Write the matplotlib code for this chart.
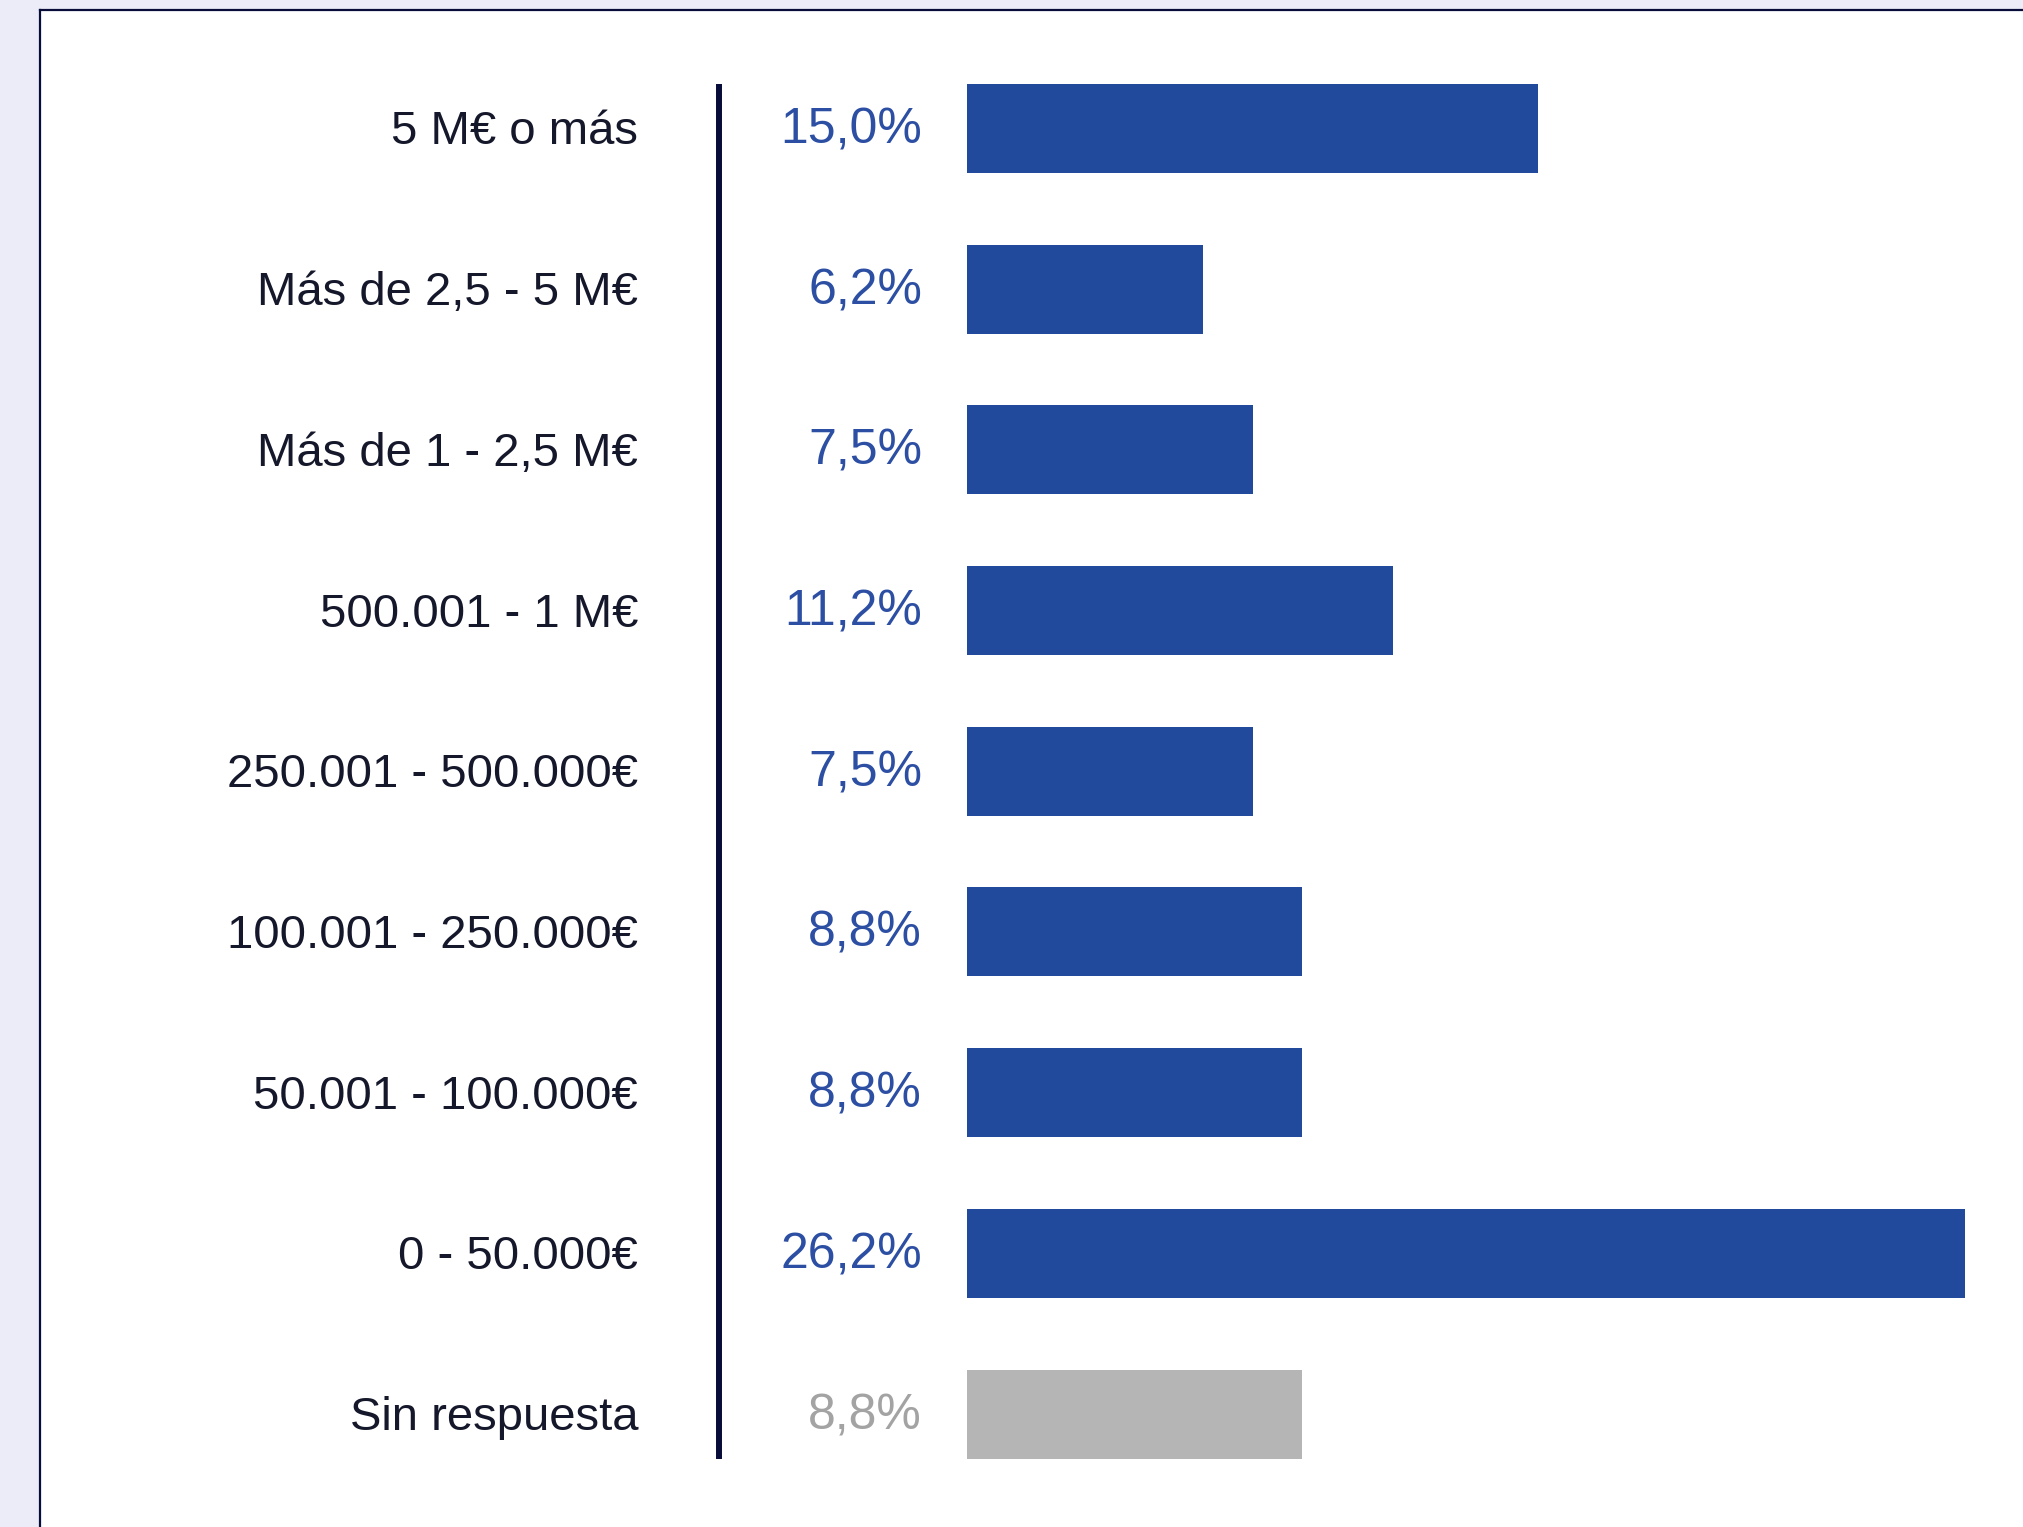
import matplotlib
matplotlib.use("Agg")
import matplotlib.pyplot as plt
from matplotlib.lines import Line2D
from matplotlib.patches import Rectangle
import matplotlib.transforms as mtransforms

categories = ["5 M€ o más", "Más de 2,5 - 5 M€", "Más de 1 - 2,5 M€", "500.001 - 1 M€",
              "250.001 - 500.000€", "100.001 - 250.000€", "50.001 - 100.000€",
              "0 - 50.000€", "Sin respuesta"]
values = [15.0, 6.2, 7.5, 11.2, 7.5, 8.8, 8.8, 26.2, 8.8]
value_labels = ["15,0%", "6,2%", "7,5%", "11,2%", "7,5%", "8,8%", "8,8%", "26,2%", "8,8%"]
is_no_answer = [False, False, False, False, False, False, False, False, True]

BLUE = "#224A9C"
BLUE_TXT = "#2C4FA3"
GRAY = "#B5B5B5"
GRAY_TXT = "#A3A3A3"
NAVY = "#070C38"
BG = "#ECECF9"
FAM = ["Liberation Sans", "DejaVu Sans"]

W, H = 2023, 1527
fig = plt.figure(figsize=(W / 100, H / 100), dpi=100, facecolor=BG)

# white panel with left/top border
fig.patches.append(Rectangle((40 / W, 0), 1 - 40 / W, 1 - 10 / H, transform=fig.transFigure,
                             facecolor="white", edgecolor="none", zorder=-10))
fig.lines.append(Line2D([40 / W, 40 / W], [0, 1 - 10 / H], transform=fig.transFigure,
                        color=NAVY, lw=1.6, zorder=-5))
fig.lines.append(Line2D([40 / W, 1], [1 - 10 / H, 1 - 10 / H], transform=fig.transFigure,
                        color=NAVY, lw=1.6, zorder=-5))

ax_left = 967 / W
ax = fig.add_axes([ax_left, 1 - 1494.5 / H, 1 - ax_left, (1494.5 - 48) / H])
ax.set_facecolor("none")
px_per_pct = 38.08
ax.set_xlim(0, (W - 967) / px_per_pct)
n = len(categories)
ax.set_ylim(n - 0.5, -0.5)
ax.axis("off")

bar_h = 0.554
ypos = list(range(n))
colors = [GRAY if g else BLUE for g in is_no_answer]
ax.barh(ypos, values, height=bar_h, color=colors, edgecolor="none")

trans = mtransforms.blended_transform_factory(fig.transFigure, ax.transData)
for y, cat, lab, g in zip(ypos, categories, value_labels, is_no_answer):
    ax.text(638 / W, y + 0.1, cat, transform=trans, ha="right", va="baseline",
            fontsize=34, family=FAM, color="#15172B")
    ax.text(922 / W, y + 0.093, lab, transform=trans, ha="right", va="baseline",
            fontsize=36, family=FAM, color=GRAY_TXT if g else BLUE_TXT)

ax.add_line(Line2D([719 / W, 719 / W], [-bar_h / 2, n - 1 + bar_h / 2], transform=trans,
                   color=NAVY, lw=4.3, clip_on=False, solid_capstyle="butt"))

fig.savefig("out.png", dpi=100, facecolor=BG)
